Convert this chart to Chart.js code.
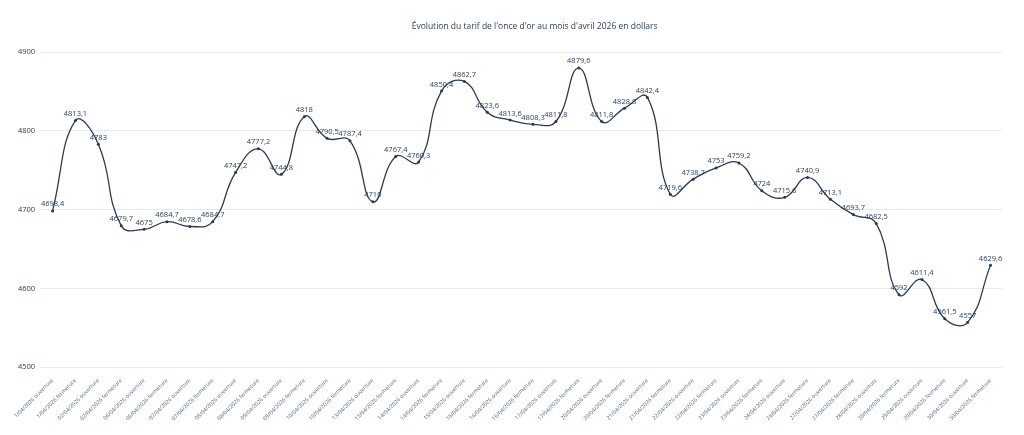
<!DOCTYPE html>
<html>
<head>
<meta charset="utf-8">
<script src="https://cdn.jsdelivr.net/npm/chart.js@4.4.1/dist/chart.umd.min.js"></script>
<style>
  html, body { margin: 0; padding: 0; background: #fff; }
  #wrap { width: 1024px; height: 435px; position: relative; }
</style>
</head>
<body>
<div id="wrap"><canvas id="goldChart"></canvas></div>
<script>
// --- DATA ---

const days = [
    '1/04/2026', '02/04/2026', '06/04/2026', '07/04/2026', '08/04/2026',
    '09/04/2026', '10/04/2026', '13/04/2026', '14/04/2026', '15/04/2026',
    '16/04/2026', '17/04/2026', '20/04/2026', '21/04/2026', '22/04/2026',
    '23/04/2026', '24/04/2026', '27/04/2026', '28/04/2026', '29/04/2026',
    '30/04/2026'
];
const sessions = ['ouverture', 'fermeture'];

// opening / closing price for each day, in order
const prices = [
    4698.4, 4813.1, 4783, 4679.7, 4675, 4684.7, 4678.6, 4684.7,
    4747.2, 4777.2, 4744.8, 4818, 4790.5, 4787.4, 4710, 4767.4,
    4760.3, 4850.4, 4862.7, 4823.6, 4813.6, 4808.3, 4811.8, 4879.6,
    4811.8, 4828.8, 4842.4, 4719.6, 4738.7, 4753, 4759.2, 4724,
    4715.6, 4740.9, 4713.1, 4693.7, 4682.5, 4592, 4611.4, 4561.5,
    4557, 4629.6
];

const yTicks = [4500, 4600, 4700, 4800, 4900];

const labels = [];
days.forEach(d => sessions.forEach(s => labels.push(d + ' ' + s)));

const inkColor = '#2a3f5f';
const lineColor = '#2b3a52';

// --- PLUGIN: value labels above each point ---
const valueLabels = {
    id: 'valueLabels',
    afterDatasetsDraw(chart) {
        const ctx = chart.ctx;
        const meta = chart.getDatasetMeta(0);
        const data = chart.data.datasets[0].data;
        ctx.save();
        ctx.font = '7.5px "Open Sans", sans-serif';
        ctx.fillStyle = inkColor;
        ctx.textAlign = 'center';
        ctx.textBaseline = 'bottom';
        meta.data.forEach((pt, i) => {
            const txt = String(data[i]).replace('.', ',');
            ctx.fillText(txt, pt.x, pt.y - 3);
        });
        ctx.restore();
    }
};

// title sits a little right of centre in the original
const titleText = '\u00a0'.repeat(25) +
    'Évolution du tarif de l\'once d\'or au mois d\'avril 2026 en dollars';

// --- CHART ---
const ctx = document.getElementById('goldChart').getContext('2d');
new Chart(ctx, {
    type: 'line',
    data: {
        labels: labels,
        datasets: [{
            label: 'Once d\'or',
            data: prices,
            borderColor: lineColor,
            backgroundColor: lineColor,
            borderWidth: 1.3,
            pointRadius: 1.5,
            pointBorderWidth: 0,
            tension: 0.45,
            fill: false
        }]
    },
    options: {
        responsive: true,
        maintainAspectRatio: false,
        animation: false,
        layout: { padding: { left: 12, right: 22, top: 0, bottom: 11 } },
        plugins: {
            legend: { display: false },
            tooltip: { enabled: false },
            title: {
                display: true,
                text: titleText,
                color: inkColor,
                font: { family: '"Open Sans", sans-serif', size: 8.5, weight: 'normal' },
                padding: { top: 21, bottom: 9 }
            }
        },
        scales: {
            x: {
                offset: true,
                grid: { display: false },
                border: { display: false },
                ticks: {
                    autoSkip: false,
                    maxRotation: 45,
                    minRotation: 45,
                    color: '#506784',
                    padding: 2,
                    font: { family: '"Open Sans", sans-serif', size: 5.5 }
                }
            },
            y: {
                min: yTicks[0],
                max: 4915,
                afterBuildTicks: scale => {
                    scale.ticks = yTicks.map(v => ({ value: v }));
                },
                grid: { color: '#e6e9ee', drawTicks: false },
                border: { display: false },
                ticks: {
                    color: inkColor,
                    padding: 6,
                    callback: v => String(v),
                    font: { family: '"Open Sans", sans-serif', size: 7.5 }
                }
            }
        }
    },
    plugins: [valueLabels]
});
</script>
</body>
</html>
